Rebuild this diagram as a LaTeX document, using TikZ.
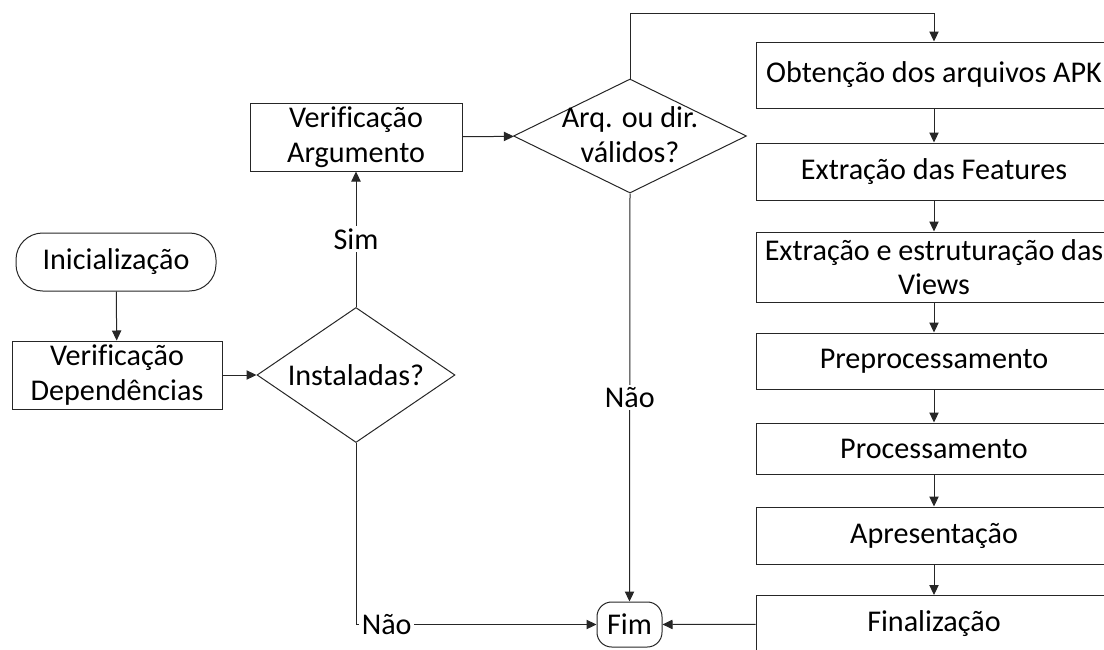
\documentclass[tikz,border=0pt]{standalone}
\usepackage{fontspec}
\setmainfont[Ligatures=NoCommon]{Carlito}
\usetikzlibrary{shapes.geometric,arrows.meta,positioning}

\tikzset{
  every picture/.style={line width=0.75pt, draw=black!85, >={Triangle[length=7.5pt,width=7pt]}},
  bloco/.style={draw, rectangle, align=center, inner sep=0pt, minimum width=267pt},
  termo/.style={draw, rectangle, rounded corners=#1, align=center, inner sep=0pt},
  decisao/.style={draw, diamond, inner sep=0pt},
  rotulo/.style={fill=white, inner sep=2pt}
}

\begin{document}
\begin{tikzpicture}[x=0.75pt, y=-0.75pt, font=\fontsize{22.6}{26}\selectfont]
  \useasboundingbox (0,0) rectangle (1104,650);

  % coluna da esquerda
  \node[termo=20pt, minimum width=150pt, minimum height=43.5pt] (ini) at (116,262) {Inicialização};
  \node[bloco, minimum width=157.5pt, minimum height=51pt] (verdep) at (117,375) {Verificação\\Dependências};
  \node[decisao, minimum width=148.5pt, minimum height=101.25pt, label=center:{Instaladas?}] (inst) at (356,375) {};
  \node[bloco, minimum width=159pt, minimum height=51pt] (verarg) at (356,137) {Verificação\\Argumento};
  \node[decisao, minimum width=174.75pt, minimum height=85.5pt, label={[align=center, yshift=1pt]center:{Arq. ou dir.\\válidos?}}] (valid) at (630,136) {};
  \node[termo=11pt, minimum width=48.75pt, minimum height=33.75pt] (fim) at (629.5,624.5) {Fim};

  % coluna da direita
  \node[bloco, minimum height=49.5pt] (obt) at (934,75) {Obtenção dos arquivos APK};
  \node[bloco, minimum height=42.75pt] (feat) at (934,171.5) {Extração das Features};
  \node[bloco, minimum height=52.5pt] (views) at (934,267) {Extração e estruturação das\\Views};
  \node[bloco, minimum height=42pt] (prep) at (934,361) {Preprocessamento};
  \node[bloco, minimum height=38.25pt] (proc) at (934,448.5) {Processamento};
  \node[bloco, minimum height=42.75pt] (apres) at (934,535.5) {Apresentação};
  \node[bloco, minimum height=42.75pt] (final) at (934,624) {Finalização};

  \coordinate (topo) at (630,13);

  \draw[->] (ini) -- (verdep);
  \draw[->] (verdep) -- (inst);
  \draw[->] (inst) -- node[rotulo] {Sim} (verarg);
  \draw[->] (verarg) -- (valid);
  \draw[->] (valid.north) -- (topo) -| (obt.north);
  \draw[->] (valid.south) -- node[rotulo, pos=0.5] {Não} (fim.north);
  \draw[->] (inst.south) |- node[rotulo, pos=0.5, anchor=west, xshift=2pt] {Não} (fim.west);
  \draw[->] (final) -- (fim);

  \draw[->] (obt) -- (feat);
  \draw[->] (feat) -- (views);
  \draw[->] (views) -- (prep);
  \draw[->] (prep) -- (proc);
  \draw[->] (proc) -- (apres);
  \draw[->] (apres) -- (final);
\end{tikzpicture}
\end{document}
